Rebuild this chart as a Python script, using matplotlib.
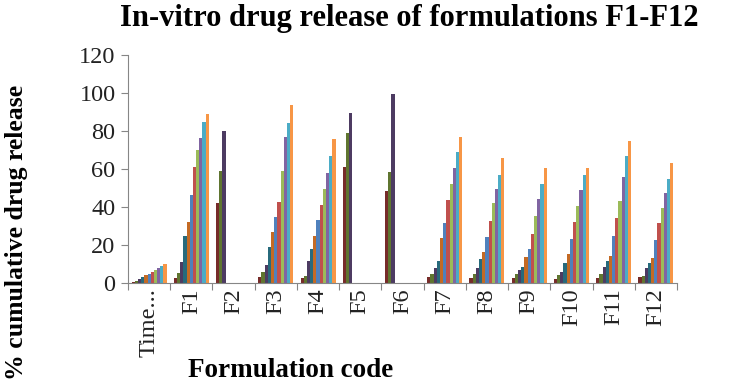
import matplotlib.pyplot as plt
import numpy as np

# categories on the x axis (first one is the time column itself)
categories = ["Time...", "F1", "F2", "F3", "F4", "F5", "F6",
              "F7", "F8", "F9", "F10", "F11", "F12"]

# one list per category, one value per sampling time (None = no data)
time_h = [0.5, 1, 2, 3, 4, 5, 6, 7, 8, 9, 10]
f1 = [2.5, 5.4, 11, 25, 32, 46.5, 61, 70, 76.5, 84.5, 89]
f2 = [42, 59, 80, None, None, None, None, None, None, None, None]
f3 = [3.3, 6, 9.5, 19, 27, 35, 42.5, 59, 77, 84, 93.5]
f4 = [2.5, 3.7, 11.8, 17.7, 24.7, 33, 41, 49.5, 57.7, 67, 76]
f5 = [61, 79, 89.5, None, None, None, None, None, None, None, None]
f6 = [48.5, 58.5, 99.5, None, None, None, None, None, None, None, None]
f7 = [3.3, 5, 7.7, 11.8, 23.5, 31.7, 43.7, 52, 60.4, 68.8, 76.7]
f8 = [2.5, 4.7, 7.7, 12.5, 16.5, 24, 32.8, 42.3, 49.3, 56.8, 65.6]
f9 = [2.5, 4.6, 6.8, 8.6, 13.5, 17.9, 26, 35.3, 44, 52, 60.4]
f10 = [2.1, 4.2, 6, 10.7, 15.3, 23.2, 31.9, 40.7, 48.9, 56.8, 60.4]
f11 = [2.5, 4.7, 8.6, 11.6, 14.4, 24.9, 34, 43.3, 56, 66.8, 74.9]
f12 = [3.3, 3.9, 7.7, 10.7, 13, 22.6, 31.4, 39.3, 47.2, 54.7, 63.3]

groups = [time_h, f1, f2, f3, f4, f5, f6, f7, f8, f9, f10, f11, f12]

# Excel 2007 style palette, as it appears in the picture
colors = ["#772C2A", "#5F7530", "#4D3B62", "#276A7C", "#C46A24",
          "#4F81BD", "#C0504D", "#9BBB59", "#8064A2", "#4BACC6", "#F79646"]

plt.rcParams['font.family'] = ['Liberation Serif', 'DejaVu Serif']

fig = plt.figure(figsize=(7.42, 3.82), dpi=100)
ax = fig.add_axes([128 / 742, 1 - 283 / 382, (677 - 128) / 742, (283 - 55) / 382])

data = np.array([[np.nan if v is None else v for v in g] for g in groups])
n_series = data.shape[1]
x = np.arange(len(categories))
width = 0.83 / n_series

for i in range(n_series):
    offset = (i - (n_series - 1) / 2) * width
    ax.bar(x + offset, data[:, i], width=width, color=colors[i], linewidth=0)

ax.set_xlim(-0.5, len(categories) - 0.5)
ax.set_ylim(0, 120)
ax.set_yticks(range(0, 121, 20))

# ticks at category boundaries, labels at centres
ax.set_xticks(np.arange(len(categories) + 1) - 0.5)
ax.set_xticklabels([])
ax.set_xticks(x, minor=True)
ax.set_xticklabels(categories, minor=True, rotation=90, fontsize=17.5, color='#222222')
ax.tick_params(axis='x', which='minor', length=0, pad=4)
ax.tick_params(axis='x', which='major', length=5, color='#868686')
ax.tick_params(axis='y', length=5, color='#868686', labelsize=17.5, labelcolor='#222222', pad=4)

for side in ['top', 'right']:
    ax.spines[side].set_visible(False)
for side in ['left', 'bottom']:
    ax.spines[side].set_color('#868686')

fig.text(120 / 742, 1 - 4 / 382, "In-vitro drug release of formulations F1-F12",
         fontsize=22, fontweight='bold', ha='left', va='top')
fig.text(188 / 742, 1 - 377 / 382, "Formulation code",
         fontsize=19.5, fontweight='bold', ha='left', va='baseline')
fig.text(17 / 742, 1 - 232 / 382, "% cumulative drug release",
         fontsize=18.5, fontweight='bold', rotation=90, ha='center', va='center')

fig.savefig("out.png", dpi=100)
